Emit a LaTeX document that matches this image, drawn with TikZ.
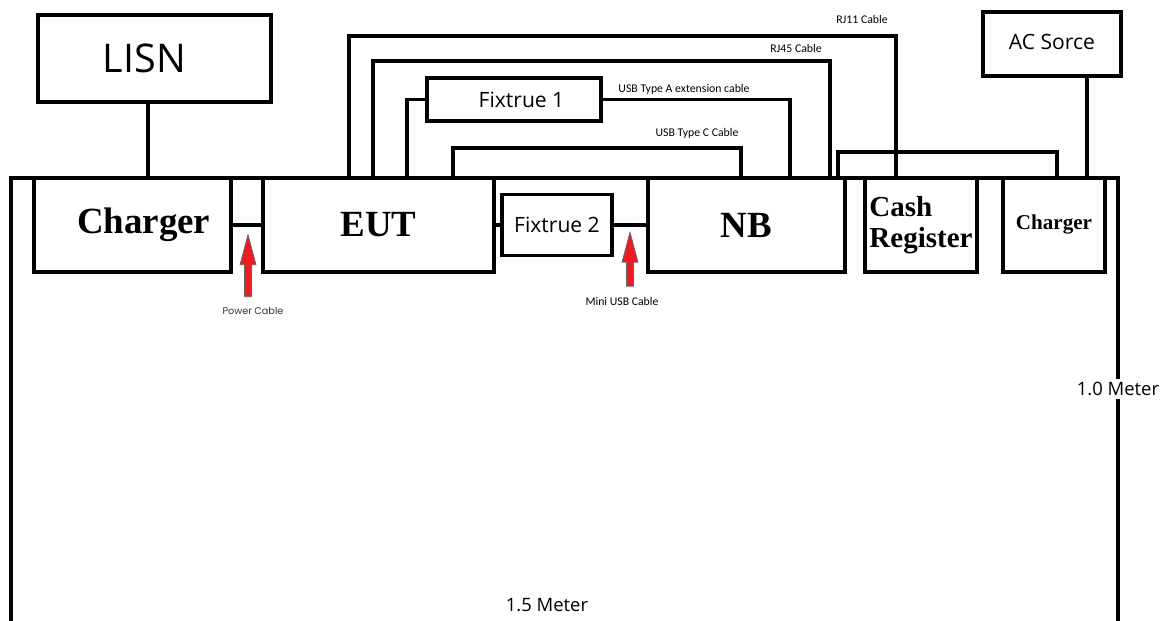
\documentclass[tikz,border=0pt]{standalone}
\usepackage{fontspec}
\setmainfont{Liberation Serif}
\newfontfamily\uifont{Open Sans}
\newfontfamily\cblfont{Carlito}
\newfontfamily\tagfont{Poppins}
\definecolor{arrowred}{HTML}{ED1C24}
\tikzset{
  box/.style={draw,line width=2.2pt,inner sep=0pt,outer sep=0pt,align=center},
  unit/.style={box,minimum height=1.88cm,font=\bfseries\fontsize{21}{24}\selectfont},
  uibox/.style={box,font=\uifont\fontsize{12}{14}\selectfont},
  cbl/.style={font=\cblfont\fontsize{6.7}{8}\selectfont,inner sep=1pt},
  redup/.pic={\filldraw[fill=arrowred,draw=black!60,line width=0.4pt]
    (-3.5,0) -- (-3.5,-#1+30) -- (-8,-#1+30) -- (0,-#1) -- (8,-#1+30) -- (3.5,-#1+30) -- (3.5,0) -- cycle;}
}
\begin{document}
\begin{tikzpicture}[x=0.02cm,y=-0.02cm,line width=2.2pt]
\useasboundingbox (0,0) rectangle (1164,621);
% table outline
\draw (11,621) -- (11,178) -- (1118,178) -- (1118,621);
\node[font=\uifont\fontsize{10.5}{12}\selectfont,fill=white,inner sep=2pt] (len10) at (1118,389) {1.0 Meter};
\node[font=\uifont\fontsize{10.5}{12}\selectfont] (len15) at (547,605) {1.5 Meter};
% equipment on the table
\node[unit,minimum width=3.94cm] (chgL) at (132.5,225) {\hspace*{0.45cm}Charger};
\node[unit,minimum width=4.62cm] (eut) at (378.5,225) {EUT};
\node[uibox,minimum width=2.2cm,minimum height=1.22cm] (fix2) at (557,225) {Fixtrue 2};
\node[unit,minimum width=3.94cm] (nb) at (746.5,225) {NB};
\node[unit,minimum width=2.24cm,align=left,font=\bfseries\fontsize{16.5}{17.5}\selectfont] (cash) at (921,225) {Cash\\Register};
\node[unit,minimum width=2.04cm,font=\bfseries\fontsize{12}{14}\selectfont] (chgR) at (1054,225) {Charger};
% off-table units
\node[box,minimum width=4.66cm,minimum height=1.74cm,font=\uifont\fontsize{22.5}{24}\selectfont] (lisn) at (154.5,58.5) {\raisebox{-0.09cm}{LISN}\hspace*{0.4cm}};
\node[uibox,minimum width=2.76cm,minimum height=1.28cm] (acs) at (1052,44) {\raisebox{0.07cm}{AC Sorce}};
\node[uibox,minimum width=3.48cm,minimum height=0.86cm] (fix1) at (514,99.5) {\hspace*{0.3cm}Fixtrue 1};
% power lines
\draw ([xshift=-0.13cm]lisn.south) -- ++(0,76);
\draw ([xshift=0.7cm]acs.south) -- ++(0,102);
\draw (chgL.east) -- (eut.west);
% USB lines
\draw (eut.east) -- (fix2.west);
\draw (fix2.east) -- (nb.west);
% cables over the units
\draw ([xshift=1.72cm]eut.north west) -- ++(0,-142) -| ([xshift=0.62cm]cash.north west);
\draw ([xshift=2.2cm]eut.north west) -- ++(0,-117) -| ([xshift=-0.3cm]nb.north east);
\draw ([xshift=2.88cm]eut.north west) |- (fix1.west);
\draw (fix1.east) -| ([xshift=-1.1cm]nb.north east);
\draw ([xshift=3.8cm]eut.north west) -- ++(0,-30) -| ([xshift=1.86cm]nb.north west);
\draw ([xshift=-0.14cm]nb.north east) -- ++(0,-26) -| ([xshift=0.06cm]chgR.north);
% cable names
\node[cbl] (rj11) at (862,19) {RJ11 Cable};
\node[cbl] (rj45) at (796,48) {RJ45 Cable};
\node[cbl] (usba) at (684,89) {USB Type A extension cable};
\node[cbl] (usbc) at (697,133) {USB Type C Cable};
\node[font=\tagfont\fontsize{5.5}{7}\selectfont,text=black!80,inner sep=1pt] (pwr) at (253,311) {Power Cable};
\node[cbl] (mini) at (622,301) {Mini USB Cable};
% red pointers
\path ([xshift=-0.1cm,yshift=0.14cm]pwr.north) pic {redup=62};
\path ([xshift=0.16cm,yshift=0.14cm]mini.north) pic {redup=54};
\end{tikzpicture}
\end{document}
